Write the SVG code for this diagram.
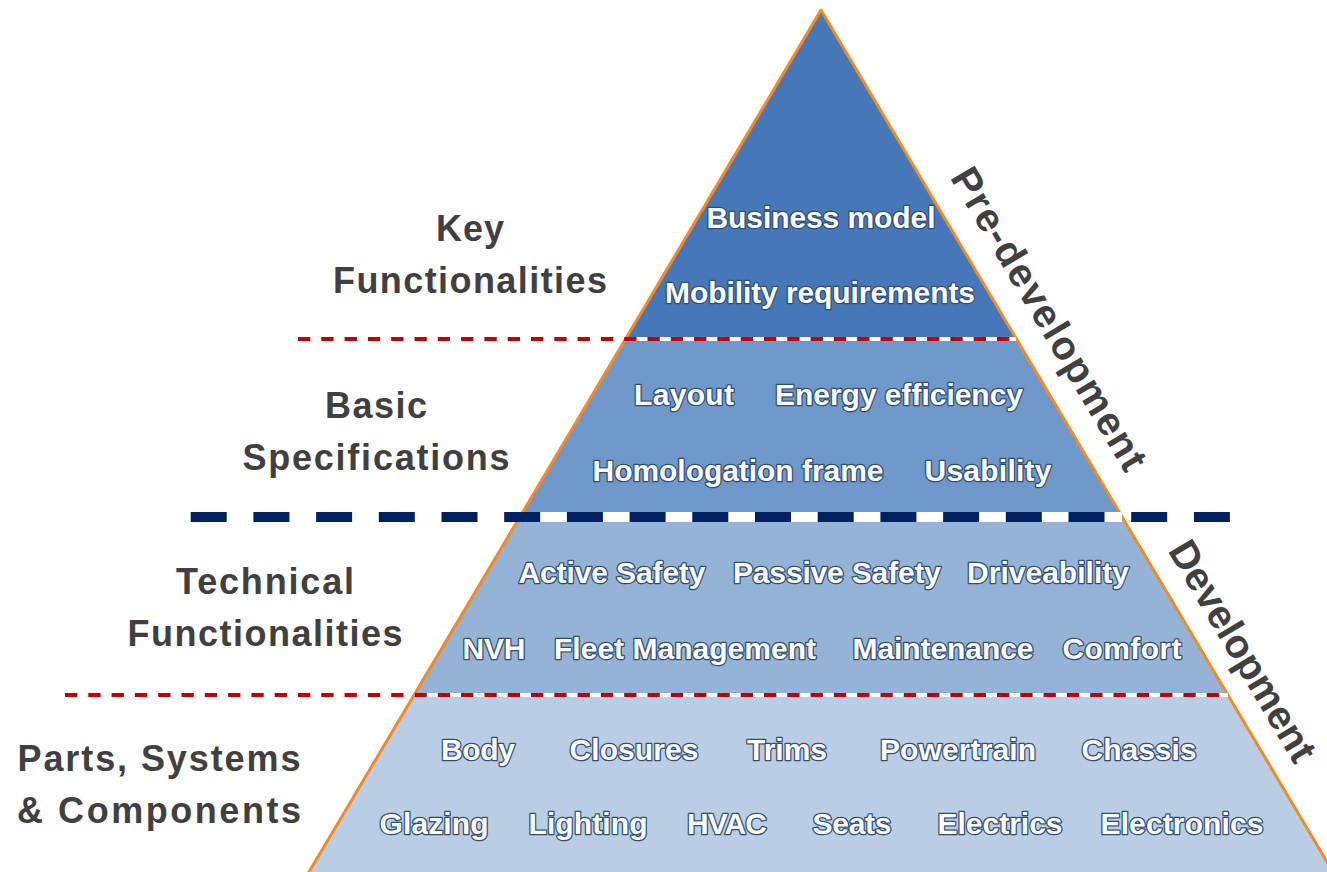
<svg xmlns="http://www.w3.org/2000/svg" width="1327" height="872" viewBox="0 0 1327 872">
<style>
.pt{font-family:"Liberation Sans",Arial,sans-serif;font-weight:bold;font-size:30px;fill:#ffffff;stroke:#2f4e76;stroke-width:2.6px;paint-order:stroke;stroke-linejoin:round;text-anchor:middle}
.lb{font-family:"Liberation Sans",Arial,sans-serif;font-weight:bold;font-size:36px;fill:#404040;text-anchor:middle}
.rt{font-family:"Liberation Sans",Arial,sans-serif;font-weight:bold;font-size:40px;fill:#404040;text-anchor:middle}
.wl{stroke:#ffffff;fill:none}
.rd{stroke:#c00000;stroke-width:4;stroke-dasharray:12.3 11;fill:none}
.nv{stroke:#002060;stroke-width:10;stroke-dasharray:36 26.7;fill:none}
</style>
<rect width="1327" height="872" fill="#ffffff"/>
<g id="layer-key">
<polygon points="821,10 1016.4,339 625.6,339" fill="#4678b9"/>
<text class="pt" x="821" y="228" textLength="229">Business model</text>
<text class="pt" x="820" y="303" textLength="310">Mobility requirements</text>
</g>
<g id="layer-basic">
<polygon points="625.6,339 1016.4,339 1122.2,517 519.8,517" fill="#6e97ca"/>
<text class="pt" x="684" y="405" textLength="100">Layout</text>
<text class="pt" x="899" y="405" textLength="248">Energy efficiency</text>
<text class="pt" x="738" y="481" textLength="291">Homologation frame</text>
<text class="pt" x="988" y="481" textLength="127">Usability</text>
</g>
<g id="layer-technical">
<polygon points="519.8,517 1122.2,517 1227.9,695 414.1,695" fill="#95b3d7"/>
<text class="pt" x="612" y="583" textLength="187">Active Safety</text>
<text class="pt" x="837" y="583" textLength="208">Passive Safety</text>
<text class="pt" x="1048" y="583" textLength="162">Driveability</text>
<text class="pt" x="494" y="659" textLength="63">NVH</text>
<text class="pt" x="685" y="659" textLength="262">Fleet Management</text>
<text class="pt" x="943" y="659" textLength="181">Maintenance</text>
<text class="pt" x="1122" y="659" textLength="119">Comfort</text>
</g>
<g id="layer-parts">
<polygon points="414.1,695 1227.9,695 1337.8,880 304.2,880" fill="#b9cde5"/>
<text class="pt" x="478" y="760" textLength="74">Body</text>
<text class="pt" x="634" y="760" textLength="129">Closures</text>
<text class="pt" x="787" y="760" textLength="80">Trims</text>
<text class="pt" x="958" y="760" textLength="156">Powertrain</text>
<text class="pt" x="1139" y="760" textLength="115">Chassis</text>
<text class="pt" x="434" y="834" textLength="109">Glazing</text>
<text class="pt" x="588" y="834" textLength="119">Lighting</text>
<text class="pt" x="727" y="834" textLength="80">HVAC</text>
<text class="pt" x="852" y="834" textLength="79">Seats</text>
<text class="pt" x="1000" y="834" textLength="125">Electrics</text>
<text class="pt" x="1182" y="834" textLength="163">Electronics</text>
</g>
<g id="pyramid-edge">
<polyline points="304.2,880 821,10 1337.8,880" fill="none" stroke="#f7891f" stroke-width="3" stroke-linejoin="round"/>
</g>
<g id="connectors">
<line class="wl" x1="626" y1="339" x2="1016" y2="339" stroke-width="4"/>
<line class="rd" x1="298" y1="339" x2="1016" y2="339"/>
<line class="wl" x1="520" y1="517" x2="1122" y2="517" stroke-width="10"/>
<line class="nv" x1="190.7" y1="517" x2="1230" y2="517"/>
<line class="wl" x1="414" y1="695" x2="1228" y2="695" stroke-width="4"/>
<line class="rd" x1="65" y1="695" x2="1228" y2="695"/>
</g>
<g id="label-key">
<text class="lb" x="470" y="241" textLength="68">Key</text>
<text class="lb" x="470" y="293" textLength="274">Functionalities</text>
</g>
<g id="label-basic">
<text class="lb" x="376" y="418" textLength="102">Basic</text>
<text class="lb" x="376" y="470" textLength="267">Specifications</text>
</g>
<g id="label-technical">
<text class="lb" x="265" y="594" textLength="178">Technical</text>
<text class="lb" x="265" y="646" textLength="275">Functionalities</text>
</g>
<g id="label-parts">
<text class="lb" x="159" y="771" textLength="283">Parts, Systems</text>
<text class="lb" x="159" y="823" textLength="284">&amp; Components</text>
</g>
<g id="label-predevelopment">
<text class="rt" transform="translate(1037.5,325.7) rotate(59.3)" textLength="345">Pre-development</text>
</g>
<g id="label-development">
<text class="rt" transform="translate(1231,658) rotate(59.3)" font-size="36" textLength="250">Development</text>
</g>
</svg>
